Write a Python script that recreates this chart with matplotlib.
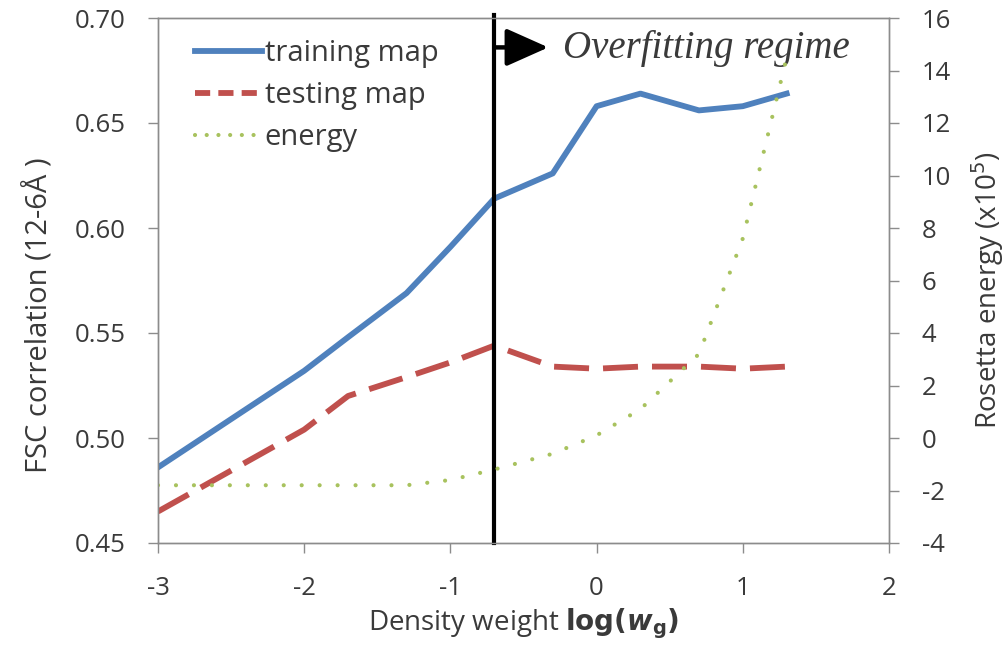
import matplotlib
matplotlib.use("Agg")
import matplotlib.pyplot as plt
from matplotlib.lines import Line2D

# Density weight on a log10 scale
log_w = [-3, -2, -1.7, -1.3, -1, -0.7, -0.3, 0, 0.3, 0.7, 1, 1.3]
training_fsc = [0.486, 0.532, 0.548, 0.569, 0.591, 0.614, 0.626, 0.658, 0.664, 0.656, 0.658, 0.664]
testing_fsc = [0.465, 0.504, 0.520, 0.529, 0.536, 0.544, 0.534, 0.533, 0.534, 0.534, 0.533, 0.534]
energy_1e5 = [-1.8, -1.8, -1.8, -1.8, -1.6, -1.2, -0.6, 0.1, 1.1, 3.2, 7.6, 14.5]

overfit_start = -0.7

x_ticks = [-3, -2, -1, 0, 1, 2]
left_ticks = [0.45, 0.50, 0.55, 0.60, 0.65, 0.70]
right_ticks = [-4, -2, 0, 2, 4, 6, 8, 10, 12, 14, 16]

BLUE = "#4F81BD"
RED = "#C0504D"
GREEN = "#A8C25E"
GREY = "#8C8C8C"
TEXT = "#3A3A3A"

plt.rcParams["font.family"] = ["Open Sans", "DejaVu Sans"]

fig = plt.figure(figsize=(10.08, 6.47), dpi=100)
ax = fig.add_axes([158 / 1008, 1 - 543 / 647, (889 - 158) / 1008, (543 - 18) / 647])
ax2 = ax.twinx()

LW = 4.2
red_dash = (6.0, 2.4)
dot_style = (0, (0.01, 4.3))

ax.plot(log_w, training_fsc, color=BLUE, lw=LW, solid_joinstyle="round", zorder=3)
ax.plot(log_w, testing_fsc, color=RED, lw=LW, dashes=red_dash, zorder=3)
ax2.plot(log_w, energy_1e5, color=GREEN, lw=3.0, linestyle=dot_style,
         dash_capstyle="round", zorder=2)

ax.set_xlim(-3, 2)
ax.set_ylim(0.45, 0.70)
ax2.set_ylim(-4, 16)

ax.axvline(overfit_start, ymin=0, ymax=1.006, color="black", lw=3, zorder=4, clip_on=False)
ax.annotate("", xy=(-0.33, 0.686), xytext=(overfit_start, 0.686),
            arrowprops=dict(arrowstyle="-|>,head_length=1.3,head_width=0.58",
                            mutation_scale=20, color="black", lw=3.2,
                            shrinkA=0, shrinkB=0), zorder=5)
ax.text(-0.23, 0.681, "Overfitting regime", family=["Liberation Serif", "DejaVu Serif"],
        style="italic", fontsize=28, color=TEXT, va="baseline", ha="left", zorder=5)

ax.set_xticks(x_ticks)
ax.set_xticklabels([str(v) for v in x_ticks])
ax.set_yticks(left_ticks)
ax.set_yticklabels([f"{v:.2f}" for v in left_ticks])
ax2.set_yticks(right_ticks)
ax2.set_yticklabels([str(v) for v in right_ticks])

for a in (ax, ax2):
    for s in a.spines.values():
        s.set_color(GREY)
        s.set_linewidth(1.0)
    a.tick_params(axis="both", direction="out", length=7, width=1, color=GREY,
                  labelsize=18.5, labelcolor=TEXT)
ax.tick_params(axis="x", pad=17)
ax.tick_params(axis="y", pad=16.5)
ax2.tick_params(axis="y", pad=16.5)

ax.set_ylabel("FSC correlation (12-6Å )", fontsize=21, color=TEXT)
ax.yaxis.set_label_coords(-0.142, 0.434)
ax2.set_ylabel("Rosetta energy (x10$^5$)", fontsize=20, color=TEXT)
ax2.yaxis.set_label_coords(1.11, 0.482)
ax.set_xlabel(r"Density weight $\mathbf{log(}\boldsymbol{w}_{\mathbf{g}}\mathbf{)}$",
              fontsize=20, color=TEXT, labelpad=4)

handles = [
    Line2D([], [], color=BLUE, lw=LW),
    Line2D([], [], color=RED, lw=LW, dashes=(2.6, 1.4)),
    Line2D([], [], color=GREEN, lw=3.0, linestyle=(0, (0.01, 2.8)), dash_capstyle="round"),
]
leg = ax.legend(handles, ["training map", "testing map", "energy"], loc="upper left",
                bbox_to_anchor=(0.05, 0.96), frameon=False, fontsize=21,
                handlelength=2.3, handletextpad=0.1, labelspacing=0.45, borderaxespad=0,
                borderpad=0)
for t in leg.get_texts():
    t.set_color(TEXT)

fig.savefig("out.png", dpi=100)
